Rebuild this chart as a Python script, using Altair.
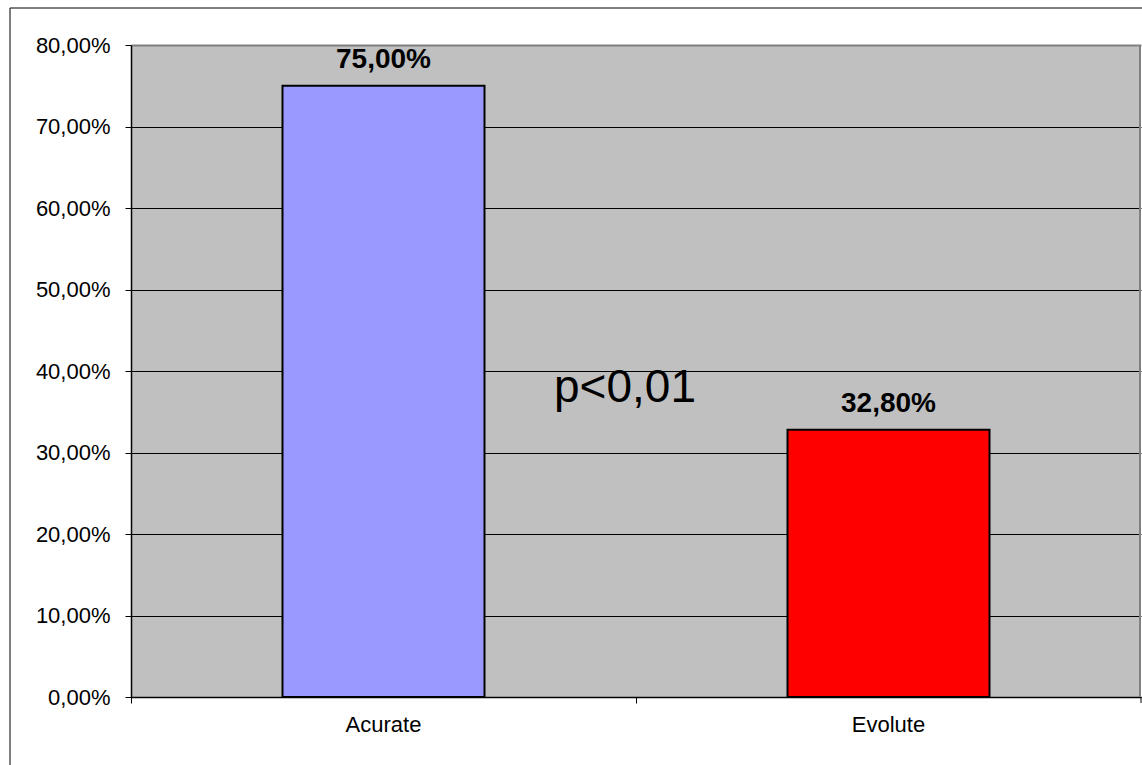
import altair as alt
import pandas as pd

# Share of accurate results per method
methods = ["Acurate", "Evolute"]
shares = [0.75, 0.328]
bar_colors = ["#9999FF", "#FF0000"]

significance = "p<0,01"
significance_level = 0.362  # vertical anchor of the significance note, in axis units

y_ticks = [0.0, 0.1, 0.2, 0.3, 0.4, 0.5, 0.6, 0.7, 0.8]

df = pd.DataFrame({"method": methods, "share": shares, "color": bar_colors})
df["label"] = [f"{v * 100:.2f}%".replace(".", ",") for v in shares]

FONT = "Liberation Sans"

x_enc = alt.X(
    "method:N",
    sort=methods,
    scale=alt.Scale(paddingInner=0.6, paddingOuter=0.3),
    axis=alt.Axis(
        title=None,
        labelAngle=0,
        labelFontSize=22,
        labelFont=FONT,
        labelColor="black",
        labelPadding=11,
        bandPosition=-0.75,
        tickColor="black",
        tickSize=6,
        domainColor="black",
        domainWidth=1.5,
        grid=False,
    ),
)

y_scale = alt.Scale(domain=[0, 0.8], nice=False)

bars = (
    alt.Chart(df)
    .mark_bar(stroke="black", strokeWidth=2)
    .encode(
        x=x_enc,
        y=alt.Y(
            "share:Q",
            scale=y_scale,
            axis=alt.Axis(
                title=None,
                values=y_ticks,
                labelExpr="replace(format(datum.value, '.2%'), '.', ',')",
                labelFontSize=22,
                labelFont=FONT,
                labelColor="black",
                labelPadding=15,
                tickColor="black",
                tickSize=6,
                domainColor="black",
                domainWidth=1.5,
                grid=True,
                gridColor=alt.condition(
                    "datum.value >= 0.8", alt.value("#808080"), alt.value("black")
                ),
                gridWidth=alt.condition(
                    "datum.value >= 0.8", alt.value(2), alt.value(1)
                ),
            ),
        ),
        color=alt.Color("color:N", scale=None, legend=None),
    )
)

value_labels = (
    alt.Chart(df)
    .mark_text(
        font=FONT,
        fontSize=28,
        fontWeight="bold",
        color="black",
        baseline="alphabetic",
        align="center",
        dy=-18,
    )
    .encode(
        x=alt.X("method:N", sort=methods),
        y=alt.Y("share:Q", scale=y_scale),
        text="label:N",
    )
)

note = (
    alt.Chart(pd.DataFrame({"text": [significance], "level": [significance_level]}))
    .mark_text(
        font=FONT,
        fontSize=46,
        color="black",
        baseline="alphabetic",
        align="center",
    )
    .encode(
        x=alt.value(494),
        y=alt.Y("level:Q", scale=y_scale),
        text="text:N",
    )
)

# Right-hand edge of the plotting area in grey, as in the top border
right_edge = (
    alt.Chart(pd.DataFrame({"v": [0]}))
    .mark_rule(color="#808080", strokeWidth=2)
    .encode(x=alt.value(1009), y=alt.value(0), y2=alt.value(652))
)

# Closing tick at the right end of the category axis
end_tick = (
    alt.Chart(pd.DataFrame({"v": [0]}))
    .mark_rule(color="black", strokeWidth=1)
    .encode(x=alt.value(1010), y=alt.value(652), y2=alt.value(658))
)

# Thin frame around the whole figure
frame = (
    alt.Chart(pd.DataFrame({"v": [0]}))
    .mark_rect(fill=None, stroke="black", strokeWidth=1, clip=False)
    .encode(
        x=alt.value(-121),
        x2=alt.value(1030),
        y=alt.value(-37),
        y2=alt.value(740),
    )
)

chart = (
    alt.layer(frame, bars, right_edge, end_tick, value_labels, note)
    .properties(
        width=1010,
        height=652,
        padding={"left": 131, "top": 45, "right": 1, "bottom": 68},
        autosize=alt.AutoSizeParams(type="none"),
        background="white",
    )
    .configure_view(fill="#C0C0C0", stroke=None)
)

chart.save("out.html", embed_options={"renderer": "svg", "actions": False})
